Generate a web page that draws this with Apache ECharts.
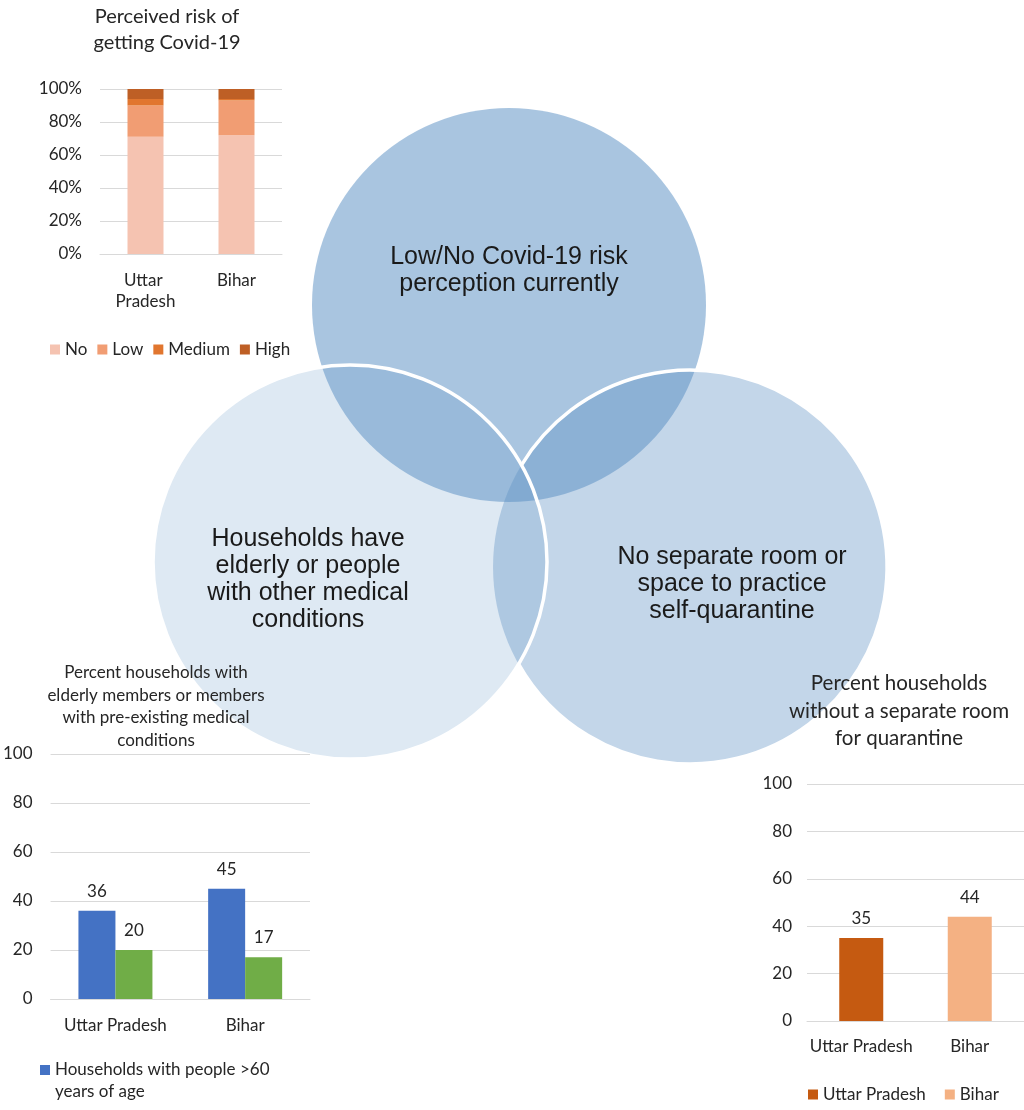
<!DOCTYPE html>
<html>
<head>
<meta charset="utf-8">
<script src="https://cdn.jsdelivr.net/npm/echarts@6/dist/echarts.min.js"></script>
<style>
html,body{margin:0;padding:0;background:#fff;}
#main{width:1024px;height:1110px;}
</style>
</head>
<body>
<div id="main"></div>
<script>
// ---------- Venn diagram (centres in units of circle radius) ----------
const vennLabels = [
  'Low/No Covid-19 risk\nperception currently',
  'No separate room or\nspace to practice\nself-quarantine',
  'Households have\nelderly or people\nwith other medical\nconditions'
];
const vennCenters = [[0, 0], [0.919, 1.330], [-0.807, 1.305]];
const vennRadii = [1, 1, 1];

// ---------- Chart 1: perceived risk ----------
const states = ['Uttar Pradesh', 'Bihar'];
const riskLevels = ['No', 'Low', 'Medium', 'High'];
const riskNo = [71, 72];
const riskLow = [19, 21];
const riskMedium = [4, 1];
const riskHigh = [6, 6];

// ---------- Chart 2: elderly / medical conditions ----------
const elderlySeriesNames = ['Households with people >60 years of age', 'Households with members with pre-existing medical conditions'];
const elderlyOver60 = [36, 45];
const medicalConditions = [20, 17];

// ---------- Chart 3: no separate room ----------
const noRoom = [35, 44];

// ---------- styling / layout ----------
const FONT = 'Lato, "Liberation Sans", sans-serif';
const TXT = '#262626';
const GRIDC = '#d9d9d9';
const vennBase = [91, 144, 196];
const vennAlpha = [0.52, 0.37, 0.2];
const vennTextOffset = [[0, -34], [42, 17], [-42, 18]];
const UNIT = 197, VX = 509, VY = 305;

const chart = echarts.init(document.getElementById('main'), null, {renderer: 'canvas'});

function rgba(a) { return 'rgba(' + vennBase.join(',') + ',' + a + ')'; }

function renderVenn(params, api) {
  const i = params.dataIndex;
  const c = api.coord([api.value(0), api.value(1)]);
  const r = api.size([api.value(2), 0])[0];
  const children = [{
    type: 'circle', shape: {cx: c[0], cy: c[1], r: r},
    style: {fill: rgba(vennAlpha[i]), stroke: null}
  }];
  if (i === 1) {
    // border of right circle, drawn only outside the left circle
    const o = api.coord(vennCenters[2]);
    const dx = o[0] - c[0], dy = o[1] - c[1];
    const d = Math.sqrt(dx * dx + dy * dy);
    const th = Math.atan2(dy, dx);
    const al = Math.acos(Math.min(1, d / (2 * r)));
    children.push({
      type: 'arc',
      shape: {cx: c[0], cy: c[1], r: r, startAngle: th + al, endAngle: th - al + Math.PI * 2, clockwise: true},
      style: {stroke: '#fff', lineWidth: 3.5, fill: null}
    });
  }
  if (i === 2) {
    children.push({
      type: 'circle', shape: {cx: c[0], cy: c[1], r: r},
      style: {fill: null, stroke: '#fff', lineWidth: 3.5}
    });
  }
  children.push({
    type: 'text',
    style: {
      text: vennLabels[i],
      x: c[0] + vennTextOffset[i][0], y: c[1] + vennTextOffset[i][1],
      align: 'center', verticalAlign: 'middle',
      textAlign: 'center', textVerticalAlign: 'middle',
      fontFamily: '"Liberation Sans", Arial, sans-serif', fontSize: 25, lineHeight: 27,
      fill: '#1a1a1a'
    }
  });
  return {type: 'group', children: children};
}

const riskColors = ['#f5c3b1', '#f19d73', '#e1762f', '#be5f25'];
const riskData = [riskNo, riskLow, riskMedium, riskHigh];

const labelCommon = {show: true, position: 'top', distance: 11, fontFamily: FONT, fontSize: 17, color: TXT};
const catLabel = {fontFamily: FONT, fontSize: 17, color: TXT, interval: 0};

const option = {
  animation: false,
  backgroundColor: '#fff',
  textStyle: {fontFamily: FONT},
  title: [
    {text: 'Perceived risk of\ngetting Covid-19', left: 167, top: 4, textAlign: 'center', padding: 0,
      textStyle: {fontFamily: FONT, fontSize: 20, fontWeight: 'normal', color: TXT, lineHeight: 26}},
    {text: 'Percent households with\nelderly members or members\nwith pre-existing medical\nconditions', left: 156, top: 661, textAlign: 'center', padding: 0,
      textStyle: {fontFamily: FONT, fontSize: 17, fontWeight: 'normal', color: TXT, lineHeight: 22.7}},
    {text: 'Percent households\nwithout a separate room\nfor quarantine', left: 899, top: 670, textAlign: 'center', padding: 0,
      textStyle: {fontFamily: FONT, fontSize: 20.5, fontWeight: 'normal', color: TXT, lineHeight: 27.5}}
  ],
  legend: [
    {data: riskLevels, left: 50, top: 341, itemWidth: 10, itemHeight: 10, itemGap: 10, icon: 'rect', padding: 0,
      textStyle: {fontFamily: FONT, fontSize: 17, color: TXT}},
    {data: [elderlySeriesNames[0]], left: 40, top: 1037, itemWidth: 10, itemHeight: 10, icon: 'rect', padding: 0,
      formatter: n => ' \n' + n.replace(' years', '\nyears'),
      textStyle: {fontFamily: FONT, fontSize: 17, color: TXT, lineHeight: 22}},
    {data: ['Uttar Pradesh', 'Bihar'], left: 808, top: 1086, itemWidth: 10, itemHeight: 10, itemGap: 19, icon: 'rect', padding: 0,
      textStyle: {fontFamily: FONT, fontSize: 17, color: TXT}}
  ],
  grid: [
    {left: 0, top: 0, width: 1024, height: 1110},
    {left: 100, top: 89, width: 182, height: 165},
    {left: 50, top: 754, width: 260, height: 245},
    {left: 807, top: 784, width: 217, height: 237}
  ],
  xAxis: [
    {gridIndex: 0, type: 'value', min: -VX / UNIT, max: (1024 - VX) / UNIT, show: false},
    {gridIndex: 1, type: 'category', data: states,
      axisLine: {lineStyle: {color: GRIDC}}, axisTick: {show: false},
      axisLabel: Object.assign({}, catLabel, {margin: 16, width: 80, overflow: 'break', lineHeight: 21})},
    {gridIndex: 2, type: 'category', data: states,
      axisLine: {lineStyle: {color: GRIDC}}, axisTick: {show: false},
      axisLabel: Object.assign({}, catLabel, {margin: 18})},
    {gridIndex: 3, type: 'category', data: states,
      axisLine: {lineStyle: {color: GRIDC}}, axisTick: {show: false},
      axisLabel: Object.assign({}, catLabel, {margin: 17})}
  ],
  yAxis: [
    {gridIndex: 0, type: 'value', inverse: true, min: -VY / UNIT, max: (1110 - VY) / UNIT, show: false},
    {gridIndex: 1, type: 'value', min: 0, max: 100, interval: 20,
      axisLine: {show: false}, axisTick: {show: false},
      splitLine: {lineStyle: {color: GRIDC}},
      axisLabel: {formatter: '{value}%', fontFamily: FONT, fontSize: 17, color: TXT, margin: 18}},
    {gridIndex: 2, type: 'value', min: 0, max: 100, interval: 20,
      axisLine: {show: false}, axisTick: {show: false},
      splitLine: {lineStyle: {color: GRIDC}},
      axisLabel: {fontFamily: FONT, fontSize: 17, color: TXT, margin: 18}},
    {gridIndex: 3, type: 'value', min: 0, max: 100, interval: 20,
      axisLine: {show: false}, axisTick: {show: false},
      splitLine: {lineStyle: {color: GRIDC}},
      axisLabel: {fontFamily: FONT, fontSize: 17, color: TXT, margin: 15}}
  ],
  series: [
    {
      type: 'custom', name: 'venn', xAxisIndex: 0, yAxisIndex: 0, z: -10, silent: true,
      renderItem: renderVenn,
      data: vennCenters.map((c, i) => [c[0], c[1], vennRadii[i]])
    }
  ].concat(riskLevels.map((lvl, k) => ({
    type: 'bar', name: lvl, stack: 'risk', xAxisIndex: 1, yAxisIndex: 1,
    barWidth: 36, itemStyle: {color: riskColors[k]}, data: riskData[k]
  }))).concat([
    {type: 'bar', name: elderlySeriesNames[0], xAxisIndex: 2, yAxisIndex: 2, barWidth: 37, barGap: '0%',
      itemStyle: {color: '#4472c4'}, label: labelCommon, data: elderlyOver60},
    {type: 'bar', name: elderlySeriesNames[1], xAxisIndex: 2, yAxisIndex: 2, barWidth: 37, barGap: '0%',
      itemStyle: {color: '#70ad47'}, label: labelCommon, data: medicalConditions},
    {type: 'bar', name: 'Uttar Pradesh', xAxisIndex: 3, yAxisIndex: 3, barWidth: 44, barGap: '-100%',
      itemStyle: {color: '#c55a11'}, label: labelCommon, data: noRoom.map((v, i) => i === 0 ? v : '-')},
    {type: 'bar', name: 'Bihar', xAxisIndex: 3, yAxisIndex: 3, barWidth: 44, barGap: '-100%',
      itemStyle: {color: '#f4b183'}, label: labelCommon, data: noRoom.map((v, i) => i === 1 ? v : '-')}
  ])
};
chart.setOption(option);
</script>
</body>
</html>
